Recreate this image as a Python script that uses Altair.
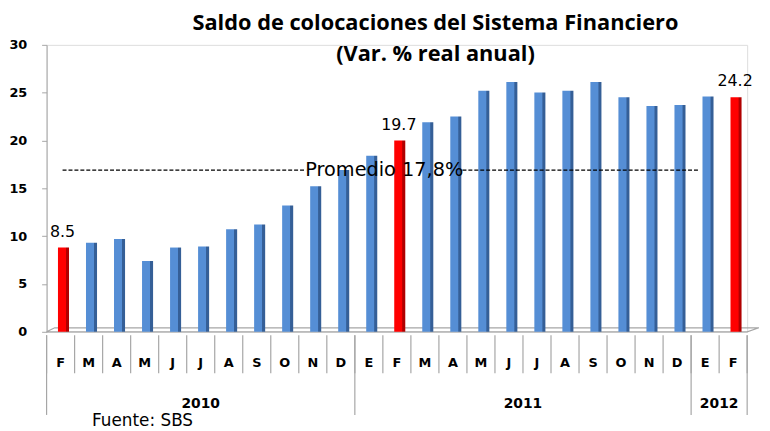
import altair as alt
import pandas as pd

# ---------------- data ----------------
months = ["F", "M", "A", "M", "J", "J", "A", "S", "O", "N", "D",
          "E", "F", "M", "A", "M", "J", "J", "A", "S", "O", "N", "D",
          "E", "F"]
values = [8.5, 9.0, 9.4, 7.1, 8.5, 8.6, 10.4, 10.9, 12.9, 14.9, 16.6,
          18.1, 19.7, 21.6, 22.2, 24.9, 25.8, 24.7, 24.9, 25.8, 24.2, 23.3, 23.4,
          24.3, 24.2]
highlight = [0, 12, 24]
years = ["2010", "2011", "2012"]
year_first = [0, 11, 23]
year_last = [10, 22, 24]
avg_value = 16.9
avg_label = "Promedio 17,8%"
avg_segments_start = [0.07, 14.34]
avg_segments_end = [8.76, 22.8]
avg_label_pos = 11.55
title_lines = ["Saldo de colocaciones del Sistema Financiero", "(Var. % real anual)"]
source_note = "Fuente: SBS"
y_ticks = [0, 5, 10, 15, 20, 25, 30]

# ---------------- style ----------------
W, H = 708, 290
BLUE_FACE, BLUE_SIDE = "#558ED5", "#355F97"
RED_FACE, RED_SIDE = "#FF0000", "#B00000"
GRAY = "#A6A6A6"

df = pd.DataFrame({
    "i": list(range(len(months))),
    "month": months,
    "value": values,
    "hl": [k in highlight for k in range(len(months))],
})
df["label"] = df["value"].map(lambda v: f"{v:.1f}")

xscale = alt.Scale(domain=[-0.5, len(months) - 0.5], nice=False, zero=False)
yscale = alt.Scale(domain=[0, 30], nice=False, zero=True)


def grad(face, side):
    return alt.Gradient(
        gradient="linear", x1=0, x2=1, y1=0, y2=0,
        stops=[alt.GradientStop(color=face, offset=0),
               alt.GradientStop(color=face, offset=0.70),
               alt.GradientStop(color=side, offset=0.76),
               alt.GradientStop(color=side, offset=1)],
    )


base = alt.Chart(df).transform_calculate(
    xa="datum.i - 0.2", xb="datum.i + 0.3", zero="0", xl="datum.i + 0.07"
)

yaxis = alt.Axis(values=y_ticks, labelFont="DejaVu Sans", labelFontWeight="bold",
                 labelFontSize=13, labelColor="#000000", tickSize=5,
                 tickColor=GRAY, domainColor=GRAY, labelPadding=15,
                 grid=False, title=None)

# floor (3-D base)
floor_df = pd.DataFrame({"fx": [-0.5, -0.21, 24.92, 24.5, -0.5],
                         "fy": [0, 0.42, 0.42, 0, 0],
                         "o": [0, 1, 2, 3, 4]})
floor = alt.Chart(floor_df).mark_line(color=GRAY, strokeWidth=1.2).encode(
    x=alt.X("fx:Q", scale=xscale, axis=None),
    y=alt.Y("fy:Q", scale=yscale, axis=yaxis),
    order="o:Q",
)

bars_blue = base.transform_filter("!datum.hl").mark_bar(
    color=grad(BLUE_FACE, BLUE_SIDE), xOffset=3, yOffset=-3
).encode(
    x=alt.X("xa:Q", scale=xscale, axis=None), x2="xb:Q",
    y=alt.Y("value:Q", scale=yscale), y2="zero:Q",
)
bars_red = base.transform_filter("datum.hl").mark_bar(
    color=grad(RED_FACE, RED_SIDE), xOffset=3, yOffset=-3
).encode(
    x=alt.X("xa:Q", scale=xscale, axis=None), x2="xb:Q",
    y=alt.Y("value:Q", scale=yscale), y2="zero:Q",
)
labels = base.transform_filter("datum.hl").mark_text(
    font="DejaVu Sans", fontSize=16, color="#000000", baseline="alphabetic",
    align="center", dy=-14
).encode(
    x=alt.X("xl:Q", scale=xscale, axis=None),
    y=alt.Y("value:Q", scale=yscale),
    text="label:N",
)

# average line
avg_df = pd.DataFrame({"s": avg_segments_start, "e": avg_segments_end,
                       "v": [avg_value] * len(avg_segments_start)})
avg_rule = alt.Chart(avg_df).mark_rule(color="#000000", strokeDash=[4, 2],
                                       strokeWidth=1.2).encode(
    x=alt.X("s:Q", scale=xscale, axis=None), x2="e:Q",
    y=alt.Y("v:Q", scale=yscale),
)
avg_text = alt.Chart(pd.DataFrame({"p": [avg_label_pos], "v": [avg_value],
                                   "t": [avg_label]})).mark_text(
    font="DejaVu Sans", fontSize=19.5, color="#000000", baseline="alphabetic",
    align="center", dy=6
).encode(
    x=alt.X("p:Q", scale=xscale, axis=None),
    y=alt.Y("v:Q", scale=yscale),
    text="t:N",
)

# category axis (months + years)
sep_df = pd.DataFrame({"b": [k - 0.5 for k in range(len(months) + 1)]})
month_sep = alt.Chart(sep_df).mark_rule(color=GRAY, strokeWidth=1.2).encode(
    x=alt.X("b:Q", scale=xscale, axis=None),
    y=alt.value(H + 3.5), y2=alt.value(H + 42),
)
year_b = sorted(set([f - 0.5 for f in year_first] + [l + 0.5 for l in year_last]))
ysep_df = pd.DataFrame({"b": year_b})
year_sep = alt.Chart(ysep_df).mark_rule(color=GRAY, strokeWidth=1.2).encode(
    x=alt.X("b:Q", scale=xscale, axis=None),
    y=alt.value(H + 3.5), y2=alt.value(H + 84),
)
month_text = alt.Chart(df).mark_text(
    font="DejaVu Sans", fontWeight="bold", fontSize=13, color="#000000",
    baseline="middle", align="center"
).encode(
    x=alt.X("i:Q", scale=xscale, axis=None),
    y=alt.value(H + 32),
    text="month:N",
)
year_df = pd.DataFrame({"y": years,
                        "c": [(a + b) / 2 for a, b in zip(year_first, year_last)]})
year_text = alt.Chart(year_df).mark_text(
    font="DejaVu Sans", fontWeight="bold", fontSize=14, color="#000000",
    baseline="middle", align="center"
).encode(
    x=alt.X("c:Q", scale=xscale, axis=None),
    y=alt.value(H + 73),
    text="y:N",
)

note_df = pd.DataFrame({"t": [source_note]})
note = alt.Chart(note_df).mark_text(
    font="DejaVu Sans", fontSize=17, color="#000000", baseline="alphabetic",
    align="left"
).encode(x=alt.value(46), y=alt.value(H + 95), text="t:N")

title_df = pd.DataFrame({"t": title_lines, "r": [0, 1]})
title1 = alt.Chart(title_df).transform_filter("datum.r == 0").mark_text(
    font="Open Sans", fontWeight="bold", fontSize=22, color="#000000",
    baseline="alphabetic", align="center"
).encode(x=alt.value(393), y=alt.value(-15), text="t:N")
title2 = alt.Chart(title_df).transform_filter("datum.r == 1").mark_text(
    font="Open Sans", fontWeight="bold", fontSize=22, color="#000000",
    baseline="alphabetic", align="center"
).encode(x=alt.value(393), y=alt.value(16), text="t:N")

chart = alt.layer(
    floor, bars_blue, bars_red, labels, avg_rule, avg_text,
    month_sep, year_sep, month_text, year_text, note, title1, title2
).properties(
    width=W, height=H,
    autosize=alt.AutoSizeParams(type="none"),
    padding={"left": 39, "top": 35, "right": 15, "bottom": 98},
).configure_view(stroke=None).configure(background="#FFFFFF")

chart.save("out.html", embed_options={"renderer": "svg", "actions": False})
